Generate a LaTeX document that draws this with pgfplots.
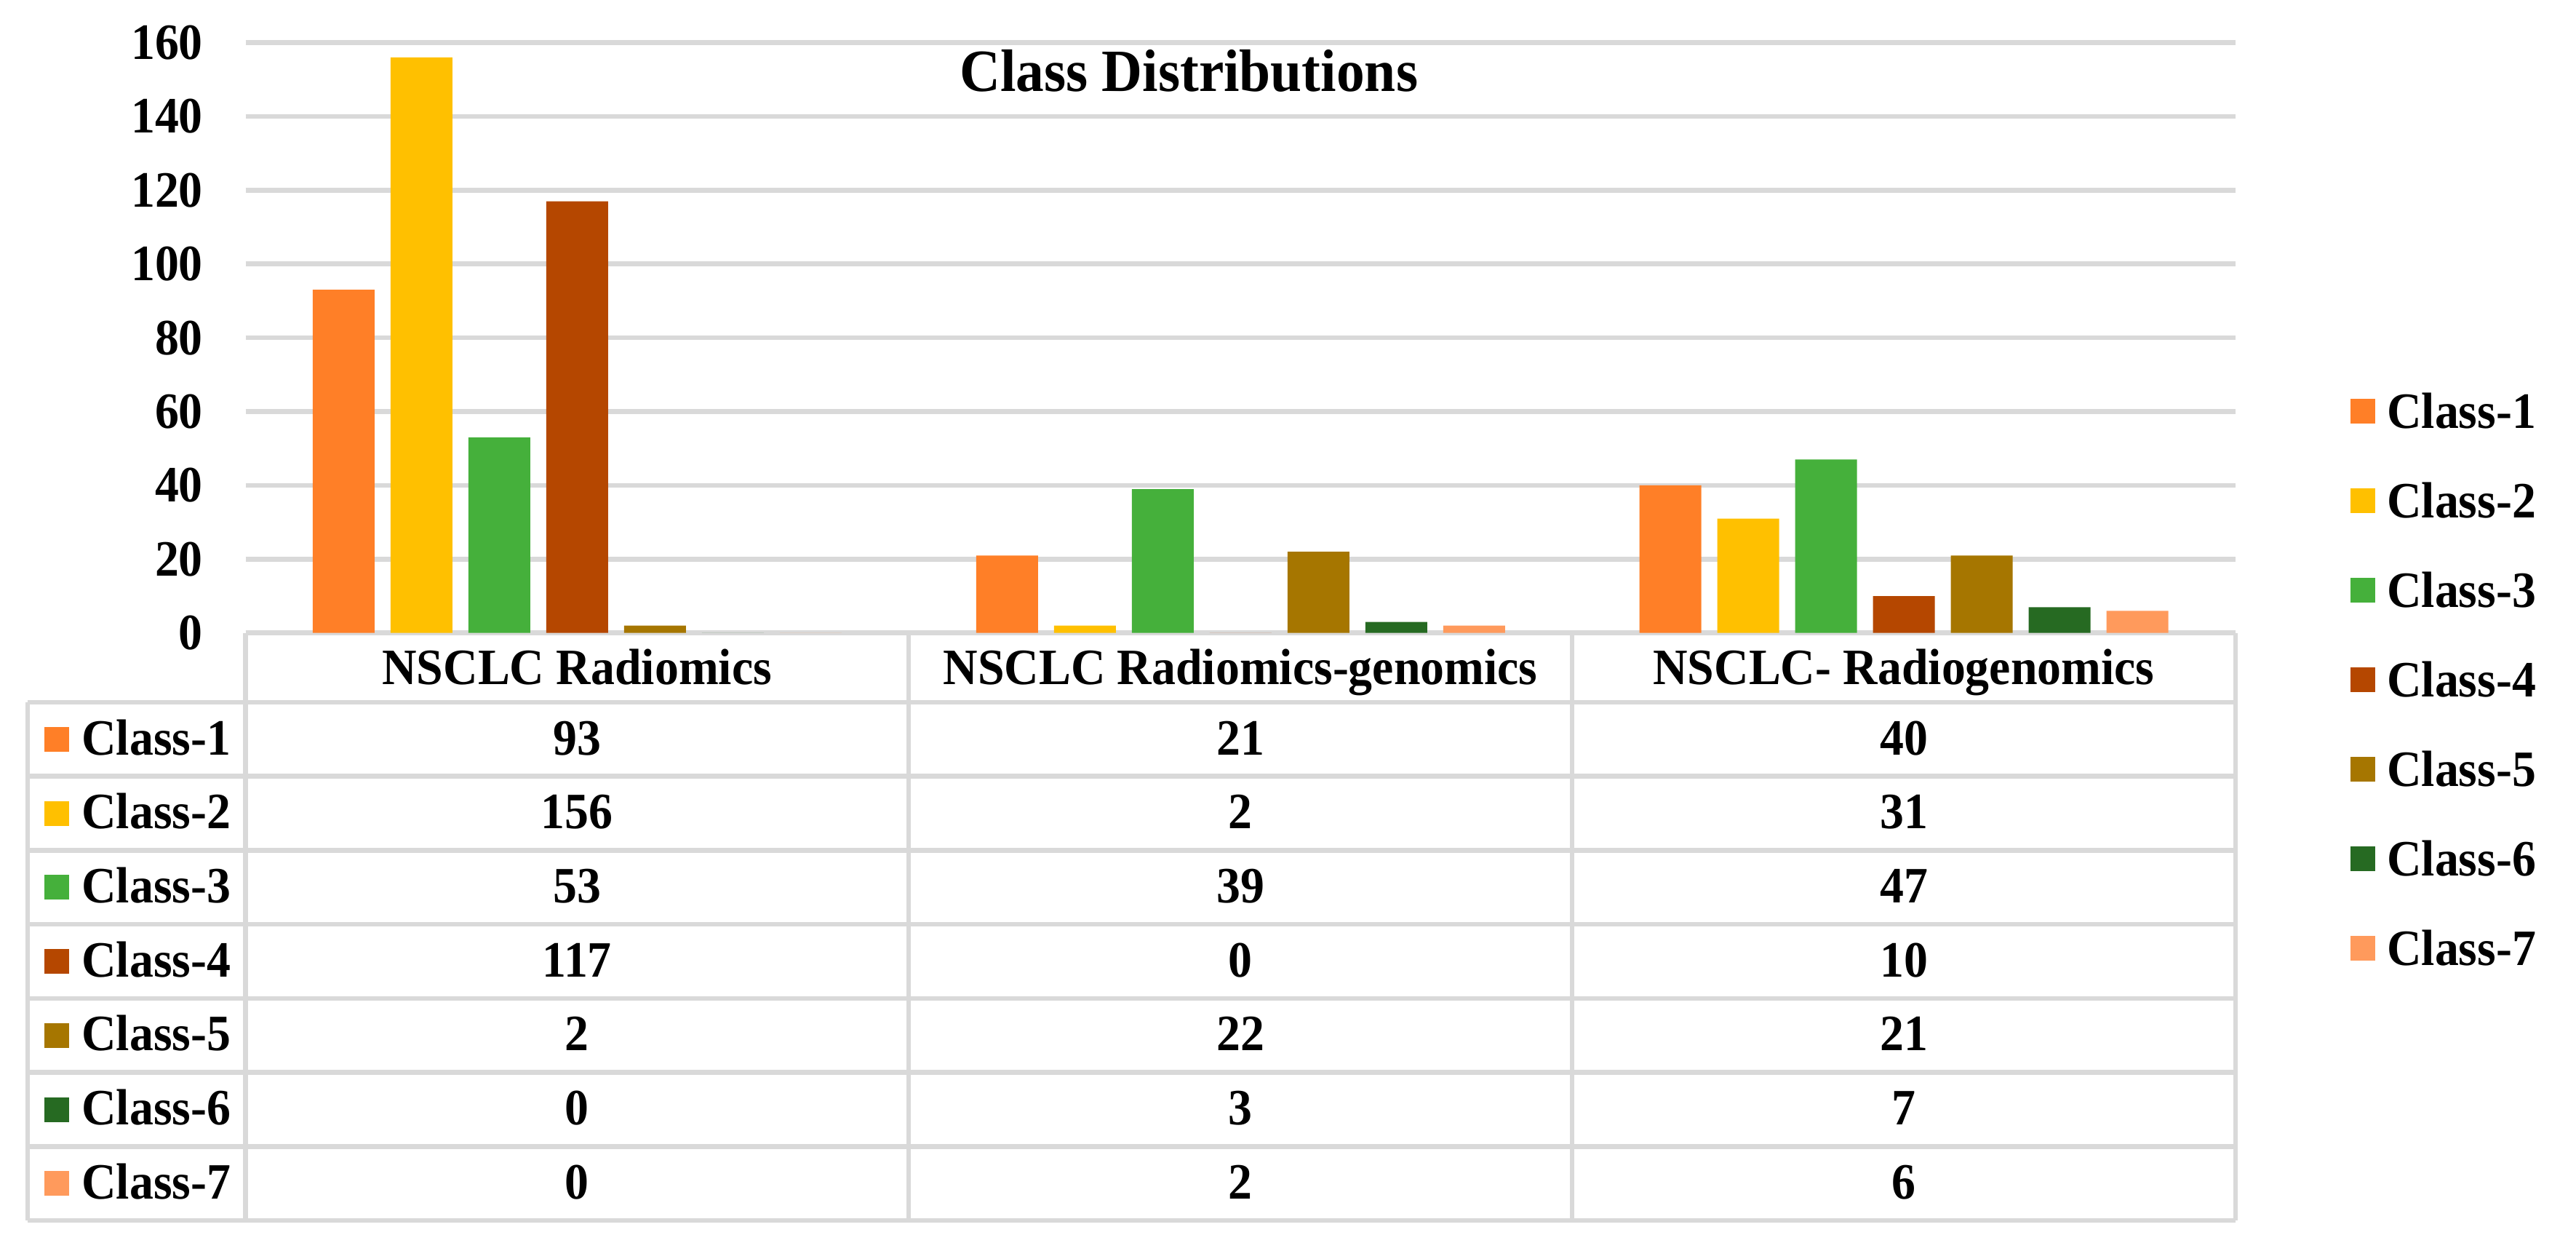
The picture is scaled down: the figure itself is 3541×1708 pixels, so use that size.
\documentclass[border=0pt]{standalone}
\usepackage{fontspec}
\setmainfont{Liberation Serif}[FakeStretch=0.94]
\usepackage{pgfplots}
\pgfplotsset{compat=1.18}
\definecolor{cA}{HTML}{FF7F27}
\definecolor{cB}{HTML}{FFC000}
\definecolor{cC}{HTML}{45B03B}
\definecolor{cD}{HTML}{B54700}
\definecolor{cE}{HTML}{A67600}
\definecolor{cF}{HTML}{266A22}
\definecolor{cG}{HTML}{FF9A5C}
\definecolor{gridgray}{HTML}{D9D9D9}
\newcommand{\fs}{\bfseries\fontsize{10.5}{12}\selectfont}
\begin{document}
\begin{tikzpicture}
% pixel-based scope (origin top-left, 1px = 0.15pt)
\begin{scope}[x=0.15pt,y=-0.15pt,every node/.style={font=\fs,inner sep=0pt}]
\useasboundingbox (0,0) rectangle (3541,1708);
\begin{scope}[draw=gridgray,line width=1pt]
\draw (337.5,870) -- (3073,870);
\foreach \yy in {965,1066.7,1168.4,1270.1,1371.9,1473.6,1575.3,1677}
  \draw (38,\yy) -- (3073,\yy);
\draw (38,965) -- (38,1677);
\foreach \xx in {337.5,1249,2161,3073}
  \draw (\xx,870) -- (\xx,1677);
\end{scope}
\node[anchor=base] at (793.25,940) {NSCLC Radiomics};
\node[anchor=base] at (1705,940) {NSCLC Radiomics-genomics};
\node[anchor=base] at (2617,940) {NSCLC- Radiogenomics};
\foreach \b/\c/\n/\va/\vb/\vc in {
  1037/cA/1/93/21/40,
  1138.7/cB/2/156/2/31,
  1240.4/cC/3/53/39/47,
  1342.1/cD/4/117/0/10,
  1443.9/cE/5/2/22/21,
  1545.6/cF/6/0/3/7,
  1647.3/cG/7/0/2/6}{
  \fill[\c] (61,\b-38) rectangle (95,\b-4);
  \node[anchor=base west] at (111,\b) {Class-\n};
  \node[anchor=base] at (793.25,\b) {\va};
  \node[anchor=base] at (1705,\b) {\vb};
  \node[anchor=base] at (2617,\b) {\vc};
}
\end{scope}
\begin{axis}[
  at={(50.625pt,-130.455pt)},
  anchor=south west,
  scale only axis,
  width=410.325pt, height=121.68pt,
  xmin=-0.5, xmax=2.5, ymin=0, ymax=160,
  ytick={0,20,...,160},
  xtick=\empty,
  ymajorgrids,
  major grid style={draw=gridgray, line width=1pt},
  axis line style={draw=none},
  major tick length=0pt,
  /pgf/number format/assume math mode=true,
  yticklabel style={font=\fs, anchor=east, inner sep=0pt, xshift=-8.6pt},
  ybar=3.3pt, bar width=12.75pt,
  every axis plot post/.append style={legend image code/.code={\fill[##1] (0pt,-2.65pt) rectangle (5.1pt,2.45pt);}},
  title={Class Distributions},
  title style={at={(0.474,0.9168)}, anchor=base, yshift=-6pt, font=\bfseries\fontsize{12.35}{14}\selectfont, inner sep=0pt},
  legend style={at={(1.0578,0.4048)}, anchor=north west, draw=none, fill=none, inner sep=0pt, outer sep=0pt, font=\fs, row sep=11.45pt, column sep=2.4pt, nodes={inner sep=0pt, text height=7pt, text depth=0pt}, cells={anchor=west}},
  clip=false,
]
\addplot[fill=cA, draw=none] coordinates {(0,93) (1,21) (2,40)};
\addplot[fill=cB, draw=none] coordinates {(0,156) (1,2) (2,31)};
\addplot[fill=cC, draw=none] coordinates {(0,53) (1,39) (2,47)};
\addplot[fill=cD, draw=none] coordinates {(0,117) (1,0) (2,10)};
\addplot[fill=cE, draw=none] coordinates {(0,2) (1,22) (2,21)};
\addplot[fill=cF, draw=none] coordinates {(0,0) (1,3) (2,7)};
\addplot[fill=cG, draw=none] coordinates {(0,0) (1,2) (2,6)};
\legend{Class-1,Class-2,Class-3,Class-4,Class-5,Class-6,Class-7}
\end{axis}
\end{tikzpicture}
\end{document}
